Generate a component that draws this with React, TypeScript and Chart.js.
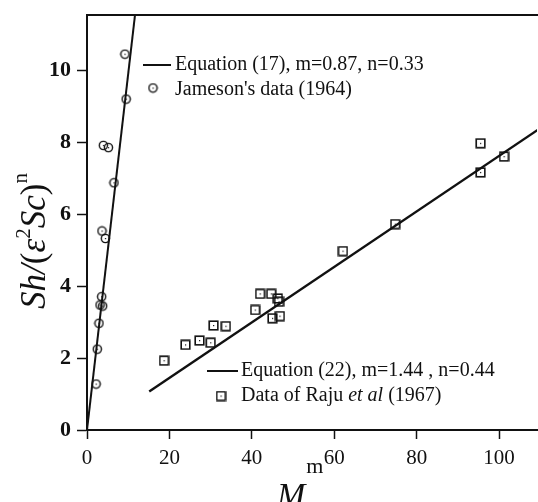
import React, { useEffect, useRef } from "react";
import { Chart, registerables } from "chart.js";

Chart.register(...registerables);

// ---- data ----
const jamesonX = [9.2, 9.5, 3.96, 5.2, 6.55, 3.64, 4.45, 3.56, 3.16, 3.8, 2.9, 2.5, 2.2];
const jamesonY = [10.46, 9.21, 7.92, 7.86, 6.88, 5.54, 5.33, 3.71, 3.48, 3.45, 2.97, 2.25, 1.28];

const rajuX = [18.7, 23.9, 27.3, 30.0, 30.7, 33.7, 40.8, 42.0, 44.7, 46.3, 46.6, 45.0, 46.8, 62.1, 74.8, 95.5, 95.5, 101.2];
const rajuY = [1.93, 2.37, 2.49, 2.43, 2.91, 2.89, 3.34, 3.79, 3.79, 3.66, 3.57, 3.11, 3.17, 4.98, 5.73, 7.98, 7.17, 7.61];

const eq17X = [0, 11.8];
const eq17Y = [0, 11.7];
const eq22X = [15.1, 110];
const eq22Y = [1.07, 8.4];

const xTicks = [0, 20, 40, 60, 80, 100];
const yTicks = [0, 2, 4, 6, 8, 10];
const xMin = 0;
const xMax = 109.2;
const yMin = 0;
const yMax = 11.55;

const legendTop = ["Equation (17), m=0.87, n=0.33", "Jameson's data (1964)"];
const legendBottom = ["Equation (22), m=1.44 , n=0.44", "Data of Raju ", "et al", " (1967)"];

const SERIF = '"Liberation Serif", "Times New Roman", serif';
const INK = "#111";

function makeCircle(): HTMLCanvasElement {
  const c = document.createElement("canvas");
  c.width = 11;
  c.height = 11;
  const g = c.getContext("2d")!;
  g.strokeStyle = INK;
  g.lineWidth = 1.4;
  g.beginPath();
  g.arc(5.5, 5.5, 4.1, 0, Math.PI * 2);
  g.stroke();
  g.fillStyle = INK;
  g.fillRect(5, 5, 1.2, 1.2);
  return c;
}

function makeSquare(): HTMLCanvasElement {
  const c = document.createElement("canvas");
  c.width = 11;
  c.height = 11;
  const g = c.getContext("2d")!;
  g.strokeStyle = INK;
  g.lineWidth = 1.6;
  g.strokeRect(1.2, 1.2, 8.6, 8.6);
  g.fillStyle = INK;
  g.fillRect(5, 5, 1.2, 1.2);
  return c;
}

function makeDecor(circle: HTMLCanvasElement, square: HTMLCanvasElement) {
  return {
    id: "decor",
    afterDraw(chart: any) {
      const ctx = chart.ctx as CanvasRenderingContext2D;
      const { left, right, top } = chart.chartArea;
      ctx.save();
      // top frame line
      ctx.strokeStyle = INK;
      ctx.lineWidth = 2;
      ctx.beginPath();
      ctx.moveTo(left - 1, top);
      ctx.lineTo(right + 1, top);
      ctx.stroke();

      ctx.fillStyle = INK;
      ctx.textBaseline = "alphabetic";
      ctx.textAlign = "left";

      // top legend
      ctx.lineWidth = 2;
      ctx.beginPath();
      ctx.moveTo(143, 65);
      ctx.lineTo(171, 65);
      ctx.stroke();
      ctx.font = `20px ${SERIF}`;
      ctx.fillText(legendTop[0], 175, 70);
      ctx.drawImage(circle, 153 - 5.5, 88 - 5.5);
      ctx.fillText(legendTop[1], 175, 95);

      // bottom legend
      ctx.beginPath();
      ctx.moveTo(207, 371);
      ctx.lineTo(238, 371);
      ctx.stroke();
      ctx.fillText(legendBottom[0], 241, 376);
      ctx.drawImage(square, 221 - 5.5, 396 - 5.5);
      let x = 241;
      ctx.font = `20px ${SERIF}`;
      ctx.fillText(legendBottom[1], x, 401);
      x += ctx.measureText(legendBottom[1]).width;
      ctx.font = `italic 20px ${SERIF}`;
      ctx.fillText(legendBottom[2], x, 401);
      x += ctx.measureText(legendBottom[2]).width;
      ctx.font = `20px ${SERIF}`;
      ctx.fillText(legendBottom[3], x, 401);

      // y axis title: Sh/(ε²Sc)ⁿ rotated
      const F = 35;
      const parts: [string, string, number][] = [
        ["Sh/", `italic ${F}px ${SERIF}`, 0],
        ["(", `${F}px ${SERIF}`, 0],
        ["ε", `italic ${F}px ${SERIF}`, 0],
        ["2", `${Math.round(F * 0.6)}px ${SERIF}`, -F * 0.42],
        ["Sc", `italic ${F}px ${SERIF}`, 0],
        [")", `${F}px ${SERIF}`, 0],
        ["n", `${Math.round(F * 0.6)}px ${SERIF}`, -F * 0.52],
      ];
      let total = 0;
      const widths: number[] = [];
      for (const [t, f] of parts) {
        ctx.font = f;
        const w = ctx.measureText(t).width;
        widths.push(w);
        total += w;
      }
      ctx.save();
      ctx.translate(45, 241);
      ctx.rotate(-Math.PI / 2);
      let px = -total / 2;
      parts.forEach(([t, f, dy], i) => {
        ctx.font = f;
        ctx.fillText(t, px, dy);
        px += widths[i];
      });
      ctx.restore();

      // x axis title: M^m
      ctx.font = `italic 34px ${SERIF}`;
      ctx.fillText("M", 277, 506);
      const mw = ctx.measureText("M").width;
      ctx.font = `22px ${SERIF}`;
      ctx.fillText("m", 277 + mw + 1, 473);
      ctx.restore();
    },
  };
}

function zeroPad(s: any) {
  s.paddingLeft = 0;
  s.paddingRight = 0;
  s.paddingTop = 0;
  s.paddingBottom = 0;
}

export default function App() {
  const ref = useRef<HTMLCanvasElement>(null);
  useEffect(() => {
    document.body.style.margin = "0";
    const canvas = ref.current!;
    const circle = makeCircle();
    const square = makeSquare();
    const chart: any = new Chart(canvas, {
      type: "scatter",
      data: {
        datasets: [
          {
            label: legendTop[0],
            type: "line",
            data: eq17X.map((x, i) => ({ x, y: eq17Y[i] })),
            borderColor: INK,
            borderWidth: 2,
            pointRadius: 0,
            fill: false,
          },
          {
            label: legendTop[1],
            data: jamesonX.map((x, i) => ({ x, y: jamesonY[i] })),
            pointStyle: circle as any,
            pointRadius: 5,
          },
          {
            label: legendBottom[0],
            type: "line",
            data: eq22X.map((x, i) => ({ x, y: eq22Y[i] })),
            borderColor: INK,
            borderWidth: 2.4,
            pointRadius: 0,
            fill: false,
          },
          {
            label: "Data of Raju et al (1967)",
            data: rajuX.map((x, i) => ({ x, y: rajuY[i] })),
            pointStyle: square as any,
            pointRadius: 5,
          },
        ],
      },
      options: {
        animation: false,
        responsive: false,
        events: [],
        layout: { autoPadding: false, padding: { left: 0, right: 1, top: 15, bottom: 0 } },
        plugins: { legend: { display: false }, tooltip: { enabled: false } },
        scales: {
          x: {
            type: "linear",
            min: xMin,
            max: xMax,
            afterBuildTicks: (s: any) => {
              s.ticks = xTicks.map((v) => ({ value: v }));
            },
            afterFit: (s: any) => {
              s.height = 72;
              zeroPad(s);
            },
            grid: {
              drawOnChartArea: false,
              drawTicks: true,
              tickLength: 9,
              tickColor: INK,
              tickWidth: 1.5,
            },
            border: { display: true, color: INK, width: 2 },
            ticks: {
              color: INK,
              padding: 7,
              font: { family: SERIF, size: 21 },
              maxRotation: 0,
            },
          },
          y: {
            type: "linear",
            min: yMin,
            max: yMax,
            afterBuildTicks: (s: any) => {
              s.ticks = yTicks.map((v) => ({ value: v }));
            },
            afterFit: (s: any) => {
              s.width = 87;
              zeroPad(s);
            },
            grid: {
              drawOnChartArea: false,
              drawTicks: true,
              tickLength: 10,
              tickColor: INK,
              tickWidth: 1.5,
            },
            border: { display: true, color: INK, width: 2 },
            ticks: {
              color: INK,
              padding: 6,
              font: { family: SERIF, size: 22, weight: "bold" },
            },
          },
        },
      },
      plugins: [makeDecor(circle, square)],
    });
    return () => chart.destroy();
  }, []);
  return (
    <div style={{ width: 538, height: 502 }}>
      <canvas ref={ref} width={538} height={502} style={{ display: "block" }} />
    </div>
  );
}
